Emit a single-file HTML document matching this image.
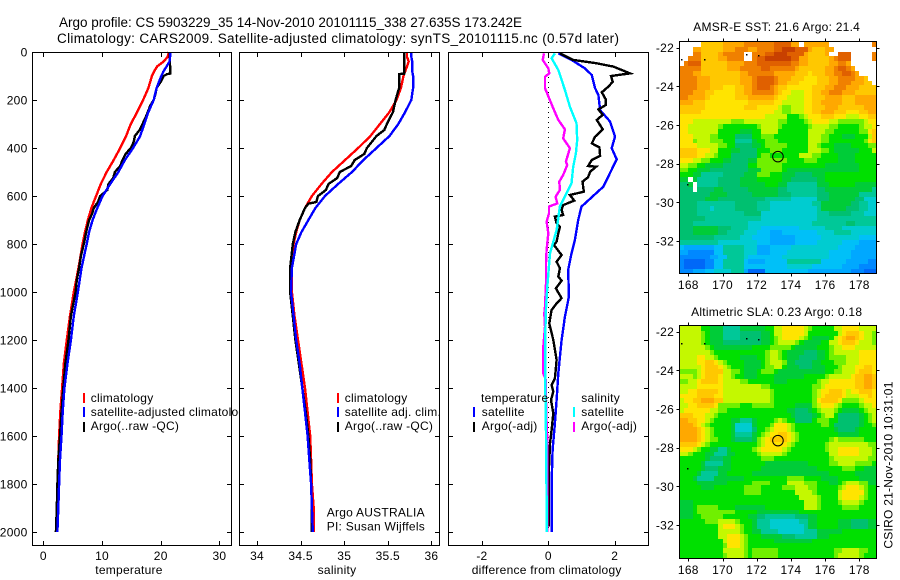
<!DOCTYPE html>
<html lang="en">
<head>
<meta charset="utf-8">
<title>Argo profile 5903229_35</title>
<style>
html,body{margin:0;padding:0;background:#fff;}
svg{display:block;}
text{font-family:"Liberation Sans",sans-serif;font-size:12px;fill:#000;letter-spacing:.25px;}
.title{font-size:13.5px;letter-spacing:0;}
.mid{text-anchor:middle;}
</style>
</head>
<body>
<svg id="figure" width="900" height="580" viewBox="0 0 900 580" xmlns="http://www.w3.org/2000/svg">
  <rect width="900" height="580" fill="#fff"/>
  <text class="title" x="59" y="27" textLength="463" lengthAdjust="spacing">Argo profile: CS 5903229_35 14-Nov-2010 20101115_338 27.635S 173.242E</text>
  <text class="title" x="57" y="43" textLength="562" lengthAdjust="spacing">Climatology: CARS2009. Satellite-adjusted climatology: synTS_20101115.nc (0.57d later)</text>

  <g id="temperature-panel">
    <g id="p1-content"></g>
    <text x="90.7" y="402">climatology</text>
    <text x="90.7" y="416">satellite-adjusted climatology</text>
    <text x="90.7" y="430">Argo(..raw -QC)</text>
    <rect x="83" y="393" width="2" height="10" fill="#f00"/>
    <rect x="83" y="407" width="2" height="10" fill="#00f"/>
    <rect x="83" y="422" width="2" height="10" fill="#000"/>
    <text class="mid" x="129" y="574">temperature</text>
  </g>

  <g id="salinity-panel">
    <rect x="239.5" y="52.5" width="200" height="493" fill="#fff"/>
    <g id="p2-content"></g>
    <text x="344.7" y="402">climatology</text>
    <text x="344.7" y="416">satellite adj. clim.</text>
    <text x="344.7" y="430">Argo(..raw -QC)</text>
    <rect x="337" y="393" width="2" height="10" fill="#f00"/>
    <rect x="337" y="407" width="2" height="10" fill="#00f"/>
    <rect x="337" y="422" width="2" height="10" fill="#000"/>
    <text x="326.7" y="516.5">Argo AUSTRALIA</text>
    <text x="326.7" y="530.5">PI: Susan Wijffels</text>
    <text class="mid" x="337" y="574">salinity</text>
  </g>

  <g id="difference-panel">
    <rect x="448.5" y="52.5" width="200" height="493" fill="#fff"/>
    <g id="p3-content"></g>
    <text x="481" y="402">temperature</text>
    <text x="481.7" y="416">satellite</text>
    <text x="481.7" y="430">Argo(-adj)</text>
    <text x="581.3" y="402">salinity</text>
    <text x="581.3" y="416">satellite</text>
    <text x="581.3" y="430">Argo(-adj)</text>
    <rect x="473" y="407" width="2" height="10" fill="#00f"/>
    <rect x="473" y="422" width="2" height="10" fill="#000"/>
    <rect x="573" y="407" width="2" height="10" fill="#0ff"/>
    <rect x="573" y="422" width="2" height="10" fill="#f0f"/>
    <text class="mid" x="546.7" y="574">difference from climatology</text>
  </g>

  <g id="sst-map"></g>
  <g id="sla-map"></g>
  <text class="mid" x="776.7" y="31">AMSR-E SST: 21.6 Argo: 21.4</text>
  <text class="mid" x="776.7" y="316">Altimetric SLA: 0.23 Argo: 0.18</text>
  <text class="mid" transform="translate(892.5,465) rotate(-90)">CSIRO 21-Nov-2010 10:31:01</text>
</svg>

<script>
// ---------- profile data ----------
const yTickValues = [0, 200, 400, 600, 800, 1000, 1200, 1400, 1600, 1800, 2000];
const tempTicks = [0, 10, 20, 30];
const salTicks = [34, 34.5, 35, 35.5, 36];
const salTickLabels = ['34', '34.5', '35', '35.5', '36'];
const diffTicks = [-2, 0, 2];

const climDepth = [0,20,40,60,80,100,150,200,250,300,350,400,450,500,550,600,650,700,750,800,900,1000,1100,1200,1300,1400,1500,1600,1700,1800,1900,2000];
const climTemp = [21.4,21.2,20.5,19.4,18.9,18.5,17.9,17.0,16.0,14.9,14.1,13.1,12.0,10.8,9.8,9.0,8.2,7.6,7.1,6.7,6.0,5.2,4.55,4.0,3.5,3.2,2.9,2.7,2.55,2.45,2.35,2.3];
const satTemp = [21.6,21.6,21.5,21.0,20.5,20.1,19.3,18.8,17.9,17.2,16.5,15.3,13.9,12.8,11.4,10.1,9.2,8.4,7.8,7.4,6.5,5.9,5.2,4.7,4.1,3.6,3.3,3.1,2.85,2.7,2.55,2.4];
const climSal = [35.72,35.72,35.74,35.72,35.70,35.68,35.65,35.60,35.52,35.41,35.30,35.16,35.01,34.86,34.74,34.63,34.55,34.49,34.45,34.42,34.40,34.40,34.43,34.47,34.51,34.55,34.58,34.61,34.62,34.63,34.65,34.65];
const satSal = [35.77,35.77,35.78,35.78,35.78,35.79,35.79,35.77,35.70,35.62,35.52,35.37,35.22,35.09,34.93,34.78,34.67,34.59,34.51,34.45,34.40,34.39,34.42,34.45,34.49,34.52,34.55,34.58,34.60,34.62,34.63,34.64];

const argoTempDepth = [0,60,90,92,100,120,150,175,200,225,250,275,300,325,350,375,400,425,450,475,500,525,550,575,600,625,650,675,700,750,800,850,900,950,1000,1100,1200,1300,1400,1500,1600,1700,1800,1900,2000];
const argoTemp = [21.5,21.6,21.6,21.1,20.5,20.1,19.3,19.1,18.8,18.2,17.8,17.4,16.9,16.4,15.6,15.4,14.9,14.0,13.5,13.1,12.2,11.9,11.1,10.9,9.7,9.3,8.6,8.3,7.8,7.3,6.9,6.4,6.1,5.7,5.5,4.7,4.3,3.75,3.4,3.1,2.85,2.55,2.4,2.3,2.15];
const argoSalDepth = [0,60,90,92,150,200,250,300,325,350,400,425,450,475,500,525,550,575,600,625,632,650,700,750,800,900,1000,1100,1200,1300,1400,1500,1600,1700,1800,1900,2000];
const argoSal = [35.69,35.69,35.69,35.63,35.63,35.59,35.56,35.49,35.46,35.37,35.26,35.23,35.12,35.08,34.95,34.92,34.82,34.79,34.70,34.68,34.59,34.55,34.49,34.44,34.41,34.38,34.38,34.41,34.44,34.48,34.52,34.56,34.59,34.61,34.62,34.63,34.63];

const diffArgoTempDepth = [6,33,47,61,89,100,124,144,168,197,221,239,262,283,322,353,381,397,433,450,475,478,499,522,540,582,596,619,638,658,679,686,714,728,756,790,804,846,874,901,936,953,985,1026,1047,1075,1131,1200,1283,1360,1388,1415,1450,1506,1575,1631,1728,1867,1978];
const diffArgoTemp = [.35,.75,1.46,1.96,2.46,1.89,1.94,1.81,1.61,1.73,1.73,1.51,1.64,1.46,1.64,1.41,1.31,1.54,1.56,1.31,1.2,1.44,1.26,1.2,1.03,1.07,.65,.78,.45,.4,.45,.2,.25,.35,.3,.25,.17,.4,.25,.35,.3,.4,.23,.4,.25,.1,.03,.15,.25,.2,.1,.15,.08,.15,.1,.05,.02,.02,.02];
const diffSatTempDepth = [6,33,68,96,151,179,242,290,353,401,447,561,644,700,783,839,908,1019,1068,1103,1200,1339,1450,1547,1658,1797,2000];
const diffSatTemp = [.3,.7,1.1,1.31,1.41,1.51,1.56,1.86,2.01,1.91,2.06,1.66,1.0,.9,.8,.7,.6,.62,.55,.5,.4,.3,.25,.2,.13,.1,.1];
const diffSatSalDepth = [6,26,75,158,228,297,367,422,478,547,644,742,839,978,1068,1172,1381,1589,1867,2000];
const diffSatSal = [.2,.1,.3,.5,.65,.85,.87,.83,.75,.7,.35,.25,.05,-.03,-.07,-.09,-.09,-.07,-.05,-.05];
const diffArgoSalDepth = [6,33,68,89,103,151,235,283,322,360,401,457,471,512,540,575,603,631,644,672,707,756,825,881,964,1061,1089,1144,1228,1339,1367,1450,1547,1617,1728,2000];
const diffArgoSal = [-.13,-.17,0,.03,-.1,-.1,.15,.3,.5,.45,.65,.53,.57,.45,.33,.35,.22,.27,.02,.02,-.05,0,-.05,-.07,-.07,-.1,-.12,-.1,-.15,-.15,-.07,-.07,-.05,-.03,-.03,-.03];

// ---------- map data: colour-level runs per row, as level,count pairs (17 = no data) ----------
const lonTicks = [168, 170, 172, 174, 176, 178];
const latTicks = [-22, -24, -26, -28, -30, -32];
const speckLons = [167.55, 168.93, 171.35, 172.05, 167.95];
const speckLats = [-22.6, -22.6, -22.35, -22.4, -29.05];
const floatLon = 173.242;
const floatLat = -27.635;
const sstRows = [
[17,5,12,5,13,5,14,7,15,4,13,2,17,1,13,6,17,10,14,1],
[17,3,13,2,12,5,13,3,14,3,13,2,14,4,15,2,16,3,15,3,13,1,12,3,13,2,17,10],
[17,3,14,2,12,4,13,1,14,5,17,2,14,3,15,2,16,3,15,4,13,1,12,4,13,1,17,2,15,3,17,5,14,1],
[17,2,14,3,12,4,13,2,14,4,17,2,14,1,15,2,16,6,15,2,13,2,12,5,13,1,14,1,15,3,17,5,14,1],
[17,1,14,1,15,3,12,6,13,4,14,3,15,8,14,2,13,2,12,5,13,2,14,2,13,1,17,6],
[14,5,12,6,13,3,14,5,15,2,14,6,13,1,12,6,13,2,14,1,15,2,14,1,13,1,17,5],
[14,3,13,2,12,9,13,2,14,6,13,5,12,3,11,1,12,3,13,2,14,2,15,2,14,1,13,1,17,4],
[14,4,13,3,12,7,13,3,14,1,15,4,14,1,13,3,12,3,11,3,12,3,13,2,14,4,13,2,12,1,17,2],
[14,4,13,3,12,7,13,3,14,1,15,4,14,1,13,2,12,3,11,4,12,3,13,2,14,3,13,3,12,2,17,1],
[14,4,13,3,12,3,11,3,12,2,13,2,14,1,15,3,14,1,13,1,12,2,11,6,12,3,13,2,14,3,13,3,12,4],
[14,3,13,3,12,2,11,5,12,2,13,2,14,5,13,1,12,1,11,2,10,3,11,2,12,2,13,2,14,3,13,3,12,5],
[14,2,13,4,12,1,11,6,12,3,13,6,12,1,11,2,10,4,11,2,12,3,13,4,12,3,13,5],
[13,3,12,3,11,10,12,6,11,2,10,5,11,2,12,2,13,5,12,3,13,5],
[12,6,11,9,12,3,11,5,10,1,9,2,10,3,11,2,12,3,13,3,12,6,13,3],
[12,5,11,17,10,2,9,2,10,3,11,2,12,2,13,3,12,3,11,3,12,2,13,2],
[11,20,10,5,8,3,9,1,10,1,11,3,12,3,11,3,10,3,11,2,12,2],
[11,3,10,9,9,3,10,8,9,2,8,4,9,1,10,1,11,4,10,2,9,6,10,1,11,2],
[11,2,10,7,9,1,8,8,9,1,10,4,9,1,8,6,9,1,10,4,9,2,8,5,9,1,10,2,11,1],
[11,2,10,7,8,5,7,3,8,2,10,4,8,7,10,4,9,2,8,6,9,2,11,1,12,1],
[11,3,10,4,9,2,8,4,6,4,8,2,9,3,8,8,10,3,9,2,8,3,7,3,8,3,10,1,12,1],
[11,3,9,1,10,3,9,3,8,3,5,4,7,1,8,2,9,3,8,7,10,3,9,2,8,8,9,1,11,1,12,1],
[11,4,10,5,9,2,8,2,6,4,7,2,8,1,9,5,8,5,10,2,9,1,8,3,7,4,8,4,9,2],
[12,4,11,3,10,2,8,3,7,2,6,4,8,3,9,3,8,6,10,3,9,2,8,1,7,6,8,3,10,1],
[12,4,11,2,10,2,9,1,8,3,6,6,8,1,9,2,8,7,10,3,9,2,8,4,7,4,8,5],
[11,3,10,2,9,2,8,3,7,2,6,4,7,2,9,7,8,4,9,3,8,5,7,4,8,5],
[10,2,9,2,8,2,7,4,6,6,8,2,9,6,8,10,7,8,8,4],
[9,2,8,2,7,3,6,9,7,3,9,5,8,1,7,17,8,4],
[8,3,7,2,5,5,6,5,7,3,9,3,8,3,7,3,6,4,7,3,8,12],
[7,2,17,1,7,1,5,5,6,5,7,4,8,6,7,2,6,6,7,2,8,12],
[6,2,7,1,17,1,5,5,6,5,7,6,8,3,7,2,5,7,7,3,8,6,7,5],
[6,3,17,1,6,4,7,2,6,6,7,7,6,2,5,7,6,2,7,11,5,1],
[6,7,7,4,6,6,7,6,6,3,5,6,6,3,7,7,5,4],
[6,6,7,3,6,11,5,6,4,6,6,3,7,6,6,2,4,3],
[6,4,5,9,6,5,5,3,4,10,5,2,7,7,6,2,5,2,4,2],
[6,4,5,3,4,1,5,5,6,5,5,3,4,11,5,1,7,6,6,3,5,2,4,2],
[6,4,5,11,6,4,4,13,5,3,6,5,5,3,4,3],
[6,6,5,13,4,13,5,14],
[6,3,5,13,4,15,5,8,6,2,5,5],
[6,3,7,6,6,3,5,4,4,3,3,9,4,6,5,4,4,8],
[6,3,7,6,6,2,5,4,4,3,3,3,2,3,3,8,4,4,5,4,4,6],
[6,8,5,6,4,3,3,4,2,6,3,6,4,9,3,4],
[5,9,4,9,3,3,2,6,3,5,4,6,3,4,2,4],
[3,1,2,7,3,2,5,5,4,3,2,3,3,5,4,11,3,4,2,5],
[2,2,1,6,3,2,5,5,4,3,2,3,3,4,4,10,3,5,2,6],
[1,7,2,2,3,2,5,4,4,1,3,8,4,11,3,5,2,6],
[1,1,0,5,1,2,3,2,5,5,3,1,2,4,3,5,5,8,3,6,2,5,1,2],
[1,1,0,5,1,2,3,2,5,5,3,10,4,6,3,7,2,4,1,4],
[1,3,2,3,3,2,4,4,5,3,2,1,0,4,3,10,2,10,1,3,0,3]
];
const slaRows = [
[10,5,8,2,7,3,5,4,7,6,8,2,10,2,11,5,10,1,9,1,8,5,10,2,11,4,10,4],
[10,5,9,1,8,1,7,3,5,4,6,5,7,2,8,1,10,2,11,5,10,1,8,7,10,1,11,1,12,3,11,1,10,2,9,1],
[10,5,9,1,8,1,7,3,5,4,6,5,7,2,8,1,9,1,10,1,11,4,10,1,9,1,8,1,7,4,8,1,10,1,11,1,12,1,13,2,12,1,11,1,10,2,9,1],
[10,5,9,1,8,1,7,3,6,9,7,2,8,1,9,1,10,4,9,1,8,1,7,4,8,2,10,2,11,1,12,3,11,1,10,3,9,1],
[10,6,9,1,8,1,7,9,8,4,9,5,8,1,7,5,8,3,9,1,10,2,11,3,10,5],
[10,7,9,1,8,12,9,1,10,2,9,1,8,1,7,4,6,3,7,2,8,1,9,1,10,6,11,4],
[10,4,11,2,10,2,9,1,8,5,7,4,8,2,9,1,10,2,9,1,8,1,7,3,6,4,7,2,8,1,9,4,10,3,11,4],
[10,4,11,2,12,2,11,1,10,1,9,1,8,4,7,4,8,1,9,1,10,3,9,1,7,2,6,4,7,2,8,3,9,3,10,3,11,4],
[10,5,11,1,12,3,11,1,10,1,9,1,8,3,7,4,8,1,9,2,10,2,8,1,7,3,6,3,7,3,8,3,9,1,10,3,11,2,12,2,11,1],
[9,4,10,1,11,1,12,4,10,2,9,2,8,1,7,3,8,1,9,3,8,1,7,11,8,2,9,2,10,3,11,1,12,3,11,1],
[10,3,9,1,10,1,11,1,12,3,11,1,10,2,9,1,8,2,7,3,8,4,7,7,8,5,9,1,10,5,11,1,12,2,13,2,12,1],
[9,2,10,2,11,1,12,4,11,1,10,4,9,2,8,6,7,3,8,7,9,1,10,2,11,6,12,2,13,2,12,1],
[10,4,11,6,10,9,9,2,8,10,9,2,10,1,11,7,12,2,13,2,12,1],
[10,2,11,2,12,5,11,1,10,11,9,1,8,9,9,1,10,1,11,2,12,3,11,1,10,1,11,2,12,3,11,1],
[11,4,12,4,11,2,10,11,9,1,8,9,9,1,10,1,11,1,12,4,11,1,10,3,11,2,12,1,11,1],
[10,1,11,2,12,2,13,3,12,2,10,11,9,1,8,9,9,1,11,1,12,4,11,1,9,4,10,1,11,3],
[10,2,11,2,12,4,11,1,9,5,8,3,9,5,8,5,7,4,9,1,10,1,11,3,10,1,9,1,8,4,9,1,10,2,11,1],
[10,1,11,6,10,2,9,2,8,14,7,2,6,3,7,1,8,1,9,1,10,3,9,1,8,1,7,4,8,1,9,1,10,2],
[12,3,11,3,10,2,9,1,8,17,7,1,6,4,7,1,8,1,9,1,10,2,8,1,6,5,7,1,8,1,9,1,10,1],
[13,2,12,2,11,2,10,1,9,1,8,4,7,2,5,3,7,1,8,4,9,1,10,1,9,1,8,2,6,4,8,1,9,3,8,2,6,5,7,1,8,1,9,1,10,1],
[13,3,12,1,11,1,10,1,9,1,8,5,7,1,4,4,7,1,8,3,9,1,11,3,10,1,9,1,8,6,9,2,8,1,6,6,7,1,8,2,9,1],
[13,4,12,1,11,1,10,1,9,1,8,4,7,1,4,4,6,1,8,2,9,1,10,1,11,3,10,1,9,1,8,9,7,1,6,4,7,1,8,4],
[13,4,12,1,11,1,10,1,9,1,8,4,7,1,5,4,7,1,8,1,9,1,10,1,11,2,12,2,11,1,10,1,9,1,8,9,7,5,8,4],
[13,4,12,1,11,1,10,1,9,2,8,3,7,1,6,4,7,1,9,1,10,1,11,1,12,4,11,1,10,1,9,1,8,7,9,1,10,1,9,6,8,3],
[12,4,11,1,10,1,9,1,8,11,9,1,10,1,11,5,10,1,9,1,8,7,9,1,10,9,9,2],
[11,3,10,1,9,1,8,2,7,2,5,2,7,1,8,5,9,1,10,1,11,5,10,1,9,1,8,8,9,1,10,2,11,5,10,3,9,1],
[10,2,9,1,8,3,7,2,5,3,7,2,8,5,9,1,10,5,9,1,8,10,10,2,11,5,10,3,9,1],
[8,6,7,1,6,3,7,2,8,7,9,3,8,13,9,1,10,8,9,2],
[8,5,7,1,5,4,7,2,8,8,7,10,8,5,9,2,10,4,9,4,8,1],
[8,5,7,1,6,3,7,3,8,7,7,13,8,6,9,3,8,2,7,3],
[8,4,7,1,5,4,7,2,8,6,7,18,8,6,7,5],
[8,3,7,1,5,4,7,7,8,10,9,4,8,4,7,4,8,5,7,4],
[8,4,7,7,8,6,9,4,8,4,10,4,9,3,8,3,7,2,8,1,9,1,10,3,9,2,7,2],
[8,5,7,3,8,7,9,4,8,5,9,3,10,3,9,2,8,5,9,1,10,1,11,3,10,1,9,1,8,2],
[8,15,9,4,8,8,10,4,9,1,8,5,10,1,11,5,9,1,8,2],
[8,28,10,4,9,1,8,4,10,1,11,4,10,1,9,1,8,2],
[7,3,8,26,10,3,9,1,8,4,9,1,10,4,9,1,8,3],
[7,3,8,1,9,5,8,4,7,7,8,9,10,3,9,1,8,5,9,4,8,4],
[7,3,8,1,9,9,8,5,7,10,8,18],
[7,3,8,2,9,5,8,6,7,2,6,2,5,7,6,3,7,2,8,14],
[8,6,9,3,10,4,9,1,8,3,7,1,5,3,4,7,5,2,7,2,8,5,7,3,6,4,7,2],
[8,9,10,1,11,3,10,1,9,1,8,2,7,1,5,3,4,8,5,1,7,2,8,5,7,3,6,4,7,2],
[8,9,10,5,9,1,8,2,7,2,5,4,4,6,5,3,7,6,8,8],
[8,9,10,2,11,3,10,1,9,1,8,3,7,5,6,3,5,5,7,3,8,11],
[8,10,10,1,11,3,10,1,9,1,8,6,7,9,8,15],
[8,10,9,1,11,3,10,1,9,1,8,30],
[8,10,10,5,9,1,8,1,9,6,8,13,9,2,10,4,9,2,8,2],
[8,10,9,1,10,4,9,1,8,1,9,6,8,13,9,1,10,5,9,1,8,3]
];

// ---------- styles and axis functions ----------
const palette = ['#0068f8','#0088ff','#00a8ff','#00c0f8','#00ccd0','#00c898','#00c070','#00cc38','#00e000','#70f000','#c4f800','#ffe400','#ffc800','#ffa800','#f08000','#e06000','#c84000','#ffffff'];
const NS = 'http://www.w3.org/2000/svg';
const yDepth = d => 52 + 0.24 * d;
const xTemp = t => 43.3 + 5.87 * t;
const xSal = s => 257 + 87.2 * (s - 34);
const xDiff = v => 548.3 + 33.2 * v;
const xLon = lon => 688.3 + 17.1 * (lon - 168);

function mk(tag, attrs, parent) {
  const el = document.createElementNS(NS, tag);
  for (const k in attrs) el.setAttribute(k, attrs[k]);
  parent.appendChild(el);
  return el;
}
function drawLine(parent, xs, depths, xFn, color, name, width) {
  const pts = xs.map((v, i) => xFn(v).toFixed(1) + ',' + yDepth(depths[i]).toFixed(1)).join(' ');
  const line = mk('polyline', {points: pts, fill: 'none', stroke: color, 'stroke-width': width || 2.4, 'shape-rendering': 'crispEdges', 'stroke-linejoin': 'miter'}, parent);
  
  
}
function drawPanel(parent, left, right, xVals, xLabels, xFn, prefix, withYLabels) {
  const top = 52.5, bottom = 545.5;
  xVals.forEach((v, i) => {
    const x = Math.round(xFn(v)) + 0.5;
    const t1 = mk('line', {x1: x, x2: x, y1: top, y2: top + 4.5, stroke: '#000'}, parent);
    
    
    const t2 = mk('line', {x1: x, x2: x, y1: bottom, y2: bottom - 4.5, stroke: '#000'}, parent);
    
    
    const lab = mk('text', {x: xFn(v), y: 560, class: 'mid'}, parent);
    
    
    lab.textContent = xLabels[i];
  });
  yTickValues.forEach(v => {
    const y = Math.round(yDepth(v)) + 0.5;
    const t1 = mk('line', {x1: left, x2: left + 4.5, y1: y, y2: y, stroke: '#000'}, parent);
    
    
    const t2 = mk('line', {x1: right, x2: right - 4.5, y1: y, y2: y, stroke: '#000'}, parent);
    
    
    if (withYLabels) {
      const lab = mk('text', {x: 27.5, y: yDepth(v) + 4.5, 'text-anchor': 'end'}, parent);
      
      
      lab.textContent = String(v);
    }
  });
  const frame = mk('rect', {x: left, y: top, width: right - left, height: bottom - top, fill: 'none', stroke: '#000'}, parent);
  
  
}

// ---------- temperature panel ----------
const p1 = document.getElementById('p1-content');
drawLine(p1, climTemp, climDepth, xTemp, '#f00', 'temperature-climatology-line');
drawLine(p1, argoTemp, argoTempDepth, xTemp, '#000', 'temperature-argo-line');
drawLine(p1, satTemp, climDepth, xTemp, '#00f', 'temperature-satellite-line');
drawPanel(p1, 32.5, 231.5, tempTicks, tempTicks.map(String), xTemp, 'temperature', true);

// ---------- salinity panel ----------
const p2 = document.getElementById('p2-content');
drawLine(p2, climSal, climDepth, xSal, '#f00', 'salinity-climatology-line');
drawLine(p2, argoSal, argoSalDepth, xSal, '#000', 'salinity-argo-line');
drawLine(p2, satSal, climDepth, xSal, '#00f', 'salinity-satellite-line');
drawPanel(p2, 239.5, 439.5, salTicks, salTickLabels, xSal, 'salinity', false);

// ---------- difference panel ----------
const p3 = document.getElementById('p3-content');
const zeroLine = mk('line', {x1: xDiff(0), x2: xDiff(0), y1: yDepth(0), y2: yDepth(2000), stroke: '#000', 'stroke-dasharray': '1 4', 'shape-rendering': 'crispEdges'}, p3);


drawLine(p3, diffSatTemp, diffSatTempDepth, xDiff, '#00f', 'difference-satellite-temperature-line');
drawLine(p3, diffArgoTemp, diffArgoTempDepth, xDiff, '#000', 'difference-argo-temperature-line');
drawLine(p3, diffArgoSal, diffArgoSalDepth, xDiff, '#f0f', 'difference-argo-salinity-line');
drawLine(p3, diffSatSal, diffSatSalDepth, xDiff, '#0ff', 'difference-satellite-salinity-line');
drawPanel(p3, 448.5, 648.5, diffTicks, diffTicks.map(String), xDiff, 'difference', false);

// ---------- maps ----------
function drawMap(parent, rows, prefix, yMinus22, top, bottom) {
  const yLat = lat => yMinus22 + 19.33 * (-22 - lat);
  const left = 679.5, right = 876.5;
  const lonStart = 167.5, latStart = -21.7, step = 0.25, cols = 46;
  rows.forEach((runs, r) => {
    let c = 0;
    for (let i = 0; i < runs.length; i += 2) {
      for (let n = 0; n < runs[i + 1] && c < cols; n++, c++) {
        const x0 = Math.round(xLon(lonStart + c * step));
        const x1 = Math.round(xLon(lonStart + (c + 1) * step));
        const y0 = Math.round(yLat(latStart - r * step));
        const y1 = Math.min(Math.round(yLat(latStart - (r + 1) * step)), Math.floor(bottom));
        const cell = mk('rect', {x: x0, y: y0, width: x1 - x0, height: y1 - y0, fill: palette[runs[i]], 'shape-rendering': 'crispEdges'}, parent);
        
        
      }
    }
  });
  speckLons.forEach((lon, i) => {
    const sp = mk('rect', {x: Math.round(xLon(lon)), y: Math.round(yLat(speckLats[i])), width: 1.5, height: 1.5, fill: '#000', 'shape-rendering': 'crispEdges'}, parent);
    
    
  });
  const marker = mk('circle', {cx: xLon(floatLon), cy: yLat(floatLat), r: 5.3, fill: 'none', stroke: '#000'}, parent);
  
  
  lonTicks.forEach(v => {
    const x = Math.round(xLon(v)) + 0.5;
    const t1 = mk('line', {x1: x, x2: x, y1: top, y2: top - 3, stroke: '#000'}, parent);
    
    
    const t2 = mk('line', {x1: x, x2: x, y1: bottom, y2: bottom + 3, stroke: '#000'}, parent);
    
    
    const lab = mk('text', {x: xLon(v), y: bottom + 15.5, class: 'mid'}, parent);
    
    
    lab.textContent = String(v);
  });
  latTicks.forEach(v => {
    const y = Math.round(yLat(v)) + 0.5;
    const t1 = mk('line', {x1: left, x2: left - 3, y1: y, y2: y, stroke: '#000'}, parent);
    
    
    const t2 = mk('line', {x1: right, x2: right + 3, y1: y, y2: y, stroke: '#000'}, parent);
    
    
    const lab = mk('text', {x: 674, y: yLat(v) + 4.5, 'text-anchor': 'end'}, parent);
    
    
    lab.textContent = String(v);
  });
  const frame = mk('rect', {x: left, y: top, width: right - left, height: bottom - top, fill: 'none', stroke: '#000'}, parent);
  
  
}
drawMap(document.getElementById('sst-map'), sstRows, 'sst-map', 47.7, 41.5, 273.5);
drawMap(document.getElementById('sla-map'), slaRows, 'sla-map', 331.7, 325.5, 558.5);
</script>
</body>
</html>
